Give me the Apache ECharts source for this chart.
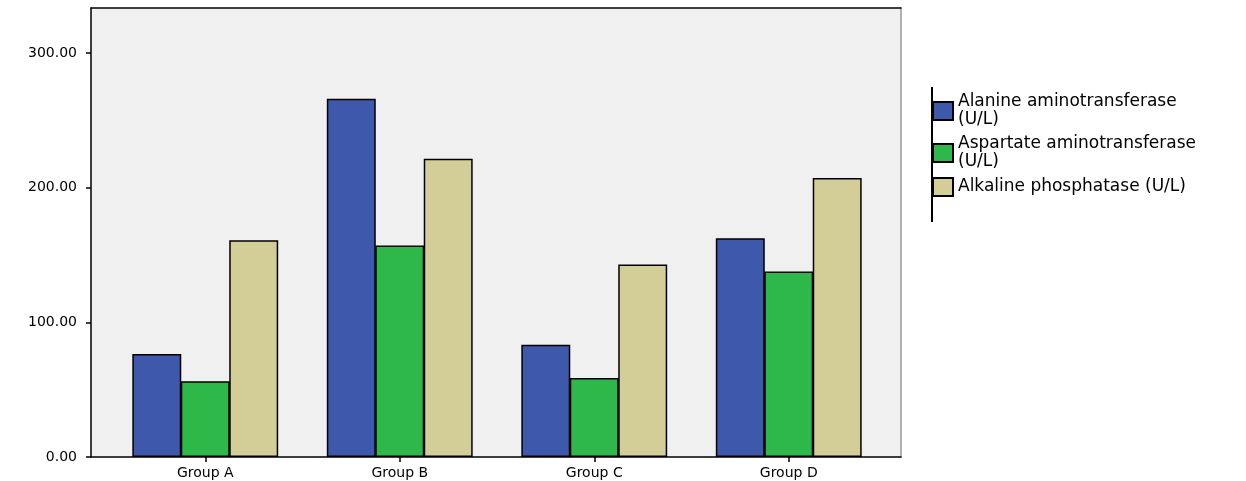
<!DOCTYPE html>
<html>
<head>
<meta charset="utf-8">
<script src="https://cdn.jsdelivr.net/npm/echarts@6/dist/echarts.min.js"></script>
<style>html,body{margin:0;padding:0;background:#fff}#c{width:1246px;height:481px}</style>
</head>
<body>
<div id="c"></div>
<script>
const categories = ['Group A', 'Group B', 'Group C', 'Group D'];
const seriesNames = ['Alanine aminotransferase\n(U/L)', 'Aspartate aminotransferase\n(U/L)', 'Alkaline phosphatase (U/L)'];
const altValues = [76.4, 266, 83.4, 162.5];
const astValues = [56.3, 157, 58.7, 137.8];
const alpValues = [161, 221.4, 143, 207.2];
const yMin = 0, yMax = 300, yStep = 100;
const colors = ['#3e58ac', '#2eb84a', '#d3ce97'];

const font = 'DejaVu Sans';
const chart = echarts.init(document.getElementById('c'), null, {renderer: 'canvas'});
const hidden = {axisTick: {show: false}, axisLabel: {show: false}, splitLine: {show: false}};
const blackLine = {show: true, onZero: false, lineStyle: {color: '#000', width: 1.5}};

chart.setOption({
  animation: false,
  backgroundColor: '#fff',
  grid: [
    {left: 91, top: 8, width: 810, height: 449, show: true, backgroundColor: '#f0f0f0', borderWidth: 0},
    {left: 108, top: 53, width: 778, height: 404}
  ],
  xAxis: [
    Object.assign({type: 'value', gridIndex: 0, min: 0, max: 1, position: 'bottom', axisLine: blackLine}, hidden),
    Object.assign({type: 'value', gridIndex: 0, min: 0, max: 1, position: 'top', axisLine: blackLine}, hidden),
    {
      type: 'category', gridIndex: 1, data: categories,
      axisLine: {show: false},
      axisTick: {show: true, alignWithLabel: true, length: 5, lineStyle: {color: '#000', width: 1.5}},
      axisLabel: {margin: 9, color: '#000', fontFamily: font, fontSize: 14},
      splitLine: {show: false}
    }
  ],
  yAxis: [
    Object.assign({type: 'value', gridIndex: 0, min: 0, max: 1, position: 'left', axisLine: blackLine}, hidden),
    Object.assign({type: 'value', gridIndex: 0, min: 0, max: 1, position: 'right',
      axisLine: {show: true, onZero: false, lineStyle: {color: '#999', width: 1.5}}}, hidden),
    {
      type: 'value', gridIndex: 1, min: yMin, max: yMax, interval: yStep, offset: 17,
      axisLine: {show: false},
      axisTick: {show: true, length: 5, lineStyle: {color: '#000', width: 1.5}},
      axisLabel: {margin: 14, color: '#000', fontFamily: font, fontSize: 14, formatter: v => v.toFixed(2)},
      splitLine: {show: false}
    }
  ],
  legend: {
    data: seriesNames, orient: 'vertical', left: 932, top: 93, padding: 0,
    itemWidth: 20, itemHeight: 18, itemGap: 6, icon: 'rect',
    textStyle: {color: '#000', fontFamily: font, fontSize: 17, lineHeight: 18}
  },
  graphic: [
    {type: 'line', shape: {x1: 932, y1: 87, x2: 932, y2: 222}, style: {stroke: '#000', lineWidth: 2}, z: 10}
  ],
  series: [altValues, astValues, alpValues].map((vals, i) => ({
    type: 'bar', name: seriesNames[i], xAxisIndex: 2, yAxisIndex: 2, data: vals,
    barGap: '-1%', barCategoryGap: '25%',
    itemStyle: {color: colors[i], borderColor: '#000', borderWidth: 1.5}
  }))
});
</script>
</body>
</html>
